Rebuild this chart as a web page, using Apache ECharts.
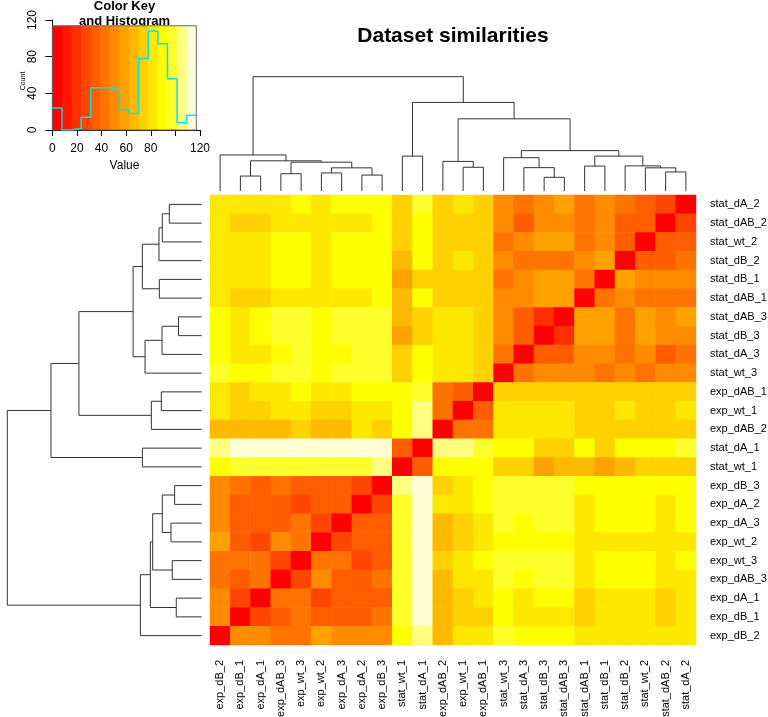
<!DOCTYPE html>
<html><head><meta charset="utf-8">
<script src="https://cdn.jsdelivr.net/npm/echarts@6/dist/echarts.min.js"></script>
<style>html,body{margin:0;padding:0;background:#fff}#c{width:768px;height:717px}</style>
</head><body><div id="c"></div>
<script>
// ---------- data ----------
const rowLabels = ['stat_dA_2','stat_dAB_2','stat_wt_2','stat_dB_2','stat_dB_1','stat_dAB_1','stat_dAB_3','stat_dB_3','stat_dA_3','stat_wt_3','exp_dAB_1','exp_wt_1','exp_dAB_2','stat_dA_1','stat_wt_1','exp_dB_3','exp_dA_2','exp_dA_3','exp_wt_2','exp_wt_3','exp_dAB_3','exp_dA_1','exp_dB_1','exp_dB_2'];
const colLabels = ['exp_dB_2','exp_dB_1','exp_dA_1','exp_dAB_3','exp_wt_3','exp_wt_2','exp_dA_3','exp_dA_2','exp_dB_3','stat_wt_1','stat_dA_1','exp_dAB_2','exp_wt_1','exp_dAB_1','stat_wt_3','stat_dA_3','stat_dB_3','stat_dAB_3','stat_dAB_1','stat_dB_1','stat_dB_2','stat_wt_2','stat_dAB_2','stat_dA_2'];
// symmetric matrix; rows and columns both in rowLabels order
const simMatrix = [
 [0,27,35,43,51,43,59,51,43,51,74,82,74,98,74,90,90,90,82,90,82,82,82,82],
 [27,0,35,35,51,43,51,51,35,51,74,74,74,90,74,90,82,82,82,82,82,74,74,82],
 [35,35,0,35,51,43,59,59,51,43,74,74,74,90,74,90,90,90,82,90,90,82,82,82],
 [43,35,35,0,59,51,43,43,43,51,74,82,74,90,66,90,90,90,82,90,90,82,82,82],
 [51,51,51,59,0,43,59,59,51,43,74,74,74,74,59,90,90,90,82,90,90,82,82,82],
 [43,43,43,51,43,0,59,59,51,51,74,74,74,90,66,90,82,82,82,82,82,74,74,82],
 [59,51,59,43,59,59,0,20,35,51,74,82,82,74,66,98,98,98,90,98,98,90,82,90],
 [51,51,59,43,59,59,20,0,35,51,74,82,82,74,59,98,98,98,90,98,98,90,82,90],
 [43,35,51,43,51,51,35,35,0,43,74,82,82,90,74,98,98,90,90,98,90,82,82,90],
 [51,51,43,51,43,51,51,51,43,0,74,82,82,90,74,98,98,98,90,98,98,90,90,98],
 [74,74,74,74,74,74,74,74,74,74,0,35,43,98,90,90,90,82,82,90,82,82,74,82],
 [82,74,74,82,74,74,82,82,82,82,35,0,43,105,90,82,82,74,74,82,82,74,74,82],
 [74,74,74,74,74,74,82,82,82,82,43,43,0,105,90,74,82,66,66,74,66,66,66,66],
 [98,90,90,90,74,90,74,74,90,90,98,105,105,0,35,113,113,113,113,113,113,113,113,105],
 [74,74,74,66,59,66,66,59,74,74,90,90,90,35,0,105,98,98,98,98,98,98,98,90],
 [90,90,90,90,90,90,98,98,98,98,90,82,74,113,105,0,27,35,35,35,43,35,43,51],
 [90,82,90,90,90,82,98,98,98,98,90,82,82,113,98,27,0,35,35,27,35,35,35,51],
 [90,82,90,90,90,82,98,98,90,98,82,74,66,113,98,35,35,0,27,43,35,35,35,51],
 [82,82,82,82,82,82,90,90,90,90,82,74,66,113,98,35,35,27,0,43,51,27,35,59],
 [90,82,90,90,90,82,98,98,98,98,90,82,74,113,98,35,27,43,43,0,27,43,43,43],
 [82,82,90,90,90,82,98,98,90,98,82,82,66,113,98,43,35,35,51,27,0,43,35,43],
 [82,74,82,82,82,74,90,90,82,90,82,74,66,113,98,35,35,35,27,43,43,0,27,51],
 [82,74,82,82,82,74,82,82,82,90,74,74,66,113,98,43,35,35,35,43,35,27,0,51],
 [82,82,82,82,82,82,90,90,90,98,82,82,66,105,90,51,51,51,59,43,43,51,51,0]
];
const keyBreaks = [0,7.8,15.6,23.4,31.2,39,46.8,54.6,62.4,70.2,78,85.8,93.6,101.4,109.2,117];
const keyColors = ['#FF0000','#FF1700','#FF2E00','#FF4600','#FF5D00','#FF7400','#FF8B00','#FFA200','#FFB900','#FFD100','#FFE800','#FFFF00','#FFFF2B','#FFFF80','#FFFFD5'];
const valueTicks = [0,20,40,60,80,100,120];
const valueTickLabels = [0,20,40,60,80,120];
const countTicks = [0,40,80,120];
// cluster tree: [mergeHeight, left, right]
const clusterTree = [117,
  [90.7,
    [73.9,
      [41.3,
        [35.7,
          [25.7, [23.7, [19.5, 'stat_dA_2', 'stat_dAB_2'], 'stat_wt_2'], 'stat_dB_2'],
          [25.5, 'stat_dB_1', 'stat_dAB_1']],
        [34.1, [23.9, [14.0, 'stat_dAB_3', 'stat_dB_3'], 'stat_dA_3'], 'stat_wt_3']],
      [30.3, [24.3, 'exp_dAB_1', 'exp_wt_1'], 'exp_dAB_2']],
    [35.7, 'stat_dA_1', 'stat_wt_1']],
  [36.9,
    [30.9,
      [29.5,
        [23.7, [16.3, 'exp_dB_3', 'exp_dA_2'], [18.5, 'exp_dA_3', 'exp_wt_2']],
        [17.7, 'exp_wt_3', 'exp_dAB_3']],
      [15.3, 'exp_dA_1', 'exp_dB_1']],
    'exp_dB_2']];

// ---------- derived ----------
const FONT = '"Liberation Sans", Arial, Helvetica, sans-serif';
const heatData = [];
rowLabels.forEach((rn, i) => {
  colLabels.forEach((cn, j) => {
    heatData.push([j, i, simMatrix[i][rowLabels.indexOf(cn)]]);
  });
});
const nb = keyColors.length;
const histCounts = new Array(nb).fill(0);
simMatrix.forEach(r => r.forEach(v => {
  let b = nb - 1;
  for (let k = 0; k < nb; k++) { if (v >= keyBreaks[k] && v < keyBreaks[k + 1]) { b = k; break; } }
  histCounts[b]++;
}));
const keyTop = Math.max.apply(null, histCounts) / 0.95;
const histPts = histCounts.map((c, b) => [keyBreaks[b], c]);
histPts.push([keyBreaks[nb], histCounts[nb - 1]]);

const pieces = keyColors.map((c, b) => b < nb - 1
  ? { gte: keyBreaks[b], lt: keyBreaks[b + 1], color: c }
  : { gte: keyBreaks[b], lte: keyBreaks[b + 1] + 10, color: c });

function buildSegs(node, posOf, segs) {
  if (typeof node === 'string') return { p: posOf(node), h: 0 };
  const l = buildSegs(node[1], posOf, segs), r = buildSegs(node[2], posOf, segs);
  segs.push([[l.p, l.h], [l.p, node[0]], [r.p, node[0]], [r.p, r.h]]);
  return { p: (l.p + r.p) / 2, h: node[0] };
}
const colSegs = []; buildSegs(clusterTree, n => colLabels.indexOf(n) + 0.5, colSegs);
const rowSegsRaw = []; buildSegs(clusterTree, n => rowLabels.indexOf(n) + 0.5, rowSegsRaw);
const rowSegs = rowSegsRaw.map(s => s.map(p => [p[1], p[0]]));
const ROOT_H = clusterTree[0];

function dendro(segs, xi, yi) {
  return {
    type: 'custom', xAxisIndex: xi, yAxisIndex: yi, silent: true, clip: false,
    data: segs.map(s => s[1]),
    renderItem: (params, api) => ({
      type: 'polyline',
      shape: { points: segs[params.dataIndex].map(p => api.coord(p)) },
      style: { stroke: '#333', lineWidth: 1, fill: null }
    })
  };
}

const chart = echarts.init(document.getElementById('c'), null, { renderer: 'canvas' });
const option = {
  animation: false,
  backgroundColor: '#fff',
  grid: [
    { left: 210, top: 195, width: 486, height: 450, outerBoundsMode: 'none' },
    { left: 210, top: 76.7, width: 486, height: 114.3, outerBoundsMode: 'none' },
    { left: 7.3, top: 195, width: 194.4, height: 450, outerBoundsMode: 'none' },
    { left: 52.3, top: 20, width: 147.7, height: 110, outerBoundsMode: 'none' }
  ],
  xAxis: [
    { gridIndex: 0, type: 'category', data: colLabels, position: 'bottom',
      axisLine: { show: false }, axisTick: { show: false }, splitLine: { show: false },
      axisLabel: { interval: 0, rotate: 90, margin: 15, fontSize: 11, color: '#000', fontFamily: FONT } },
    { gridIndex: 1, type: 'value', min: 0, max: 24, show: false },
    { gridIndex: 2, type: 'value', min: 0, max: ROOT_H, inverse: true, show: false },
    { gridIndex: 3, type: 'value', min: valueTicks[0], max: valueTicks[valueTicks.length - 1], interval: 20,
      axisLine: { show: true, onZero: false, lineStyle: { color: '#000', width: 1 } },
      axisTick: { show: true, length: 6, lineStyle: { color: '#000' } },
      splitLine: { show: false },
      axisLabel: { margin: 13, fontSize: 12, color: '#000', fontFamily: FONT,
        formatter: v => valueTickLabels.indexOf(v) >= 0 ? String(v) : '' } }
  ],
  yAxis: [
    { gridIndex: 0, type: 'category', data: rowLabels, inverse: true, position: 'right',
      axisLine: { show: false }, axisTick: { show: false }, splitLine: { show: false },
      axisLabel: { interval: 0, margin: 14, fontSize: 11, color: '#000', fontFamily: FONT } },
    { gridIndex: 1, type: 'value', min: 0, max: ROOT_H, show: false },
    { gridIndex: 2, type: 'value', min: 0, max: 24, inverse: true, show: false },
    { gridIndex: 3, type: 'value', min: countTicks[0], max: countTicks[countTicks.length - 1], interval: 40,
      axisLine: { show: true, onZero: false, lineStyle: { color: '#000', width: 1 } },
      axisTick: { show: true, length: 7, lineStyle: { color: '#000' } },
      splitLine: { show: false },
      axisLabel: { rotate: 90, margin: 14, fontSize: 12, color: '#000', fontFamily: FONT } }
  ],
  visualMap: { type: 'piecewise', show: false, seriesIndex: 0, dimension: 2, pieces: pieces },
  series: [
    { type: 'heatmap', xAxisIndex: 0, yAxisIndex: 0, data: heatData, silent: true,
      itemStyle: { borderWidth: 0 }, emphasis: { disabled: true }, progressive: 0 },
    dendro(colSegs, 1, 1),
    dendro(rowSegs, 2, 2),
    { type: 'custom', xAxisIndex: 3, yAxisIndex: 3, silent: true, z: 1,
      data: keyColors.map((c, b) => [keyBreaks[b], keyTop]),
      renderItem: (params, api) => {
        const b = params.dataIndex;
        const p1 = api.coord([keyBreaks[b], keyTop]);
        const p2 = api.coord([keyBreaks[b + 1], 0]);
        return { type: 'rect', shape: { x: p1[0], y: p1[1], width: p2[0] - p1[0] + 0.6, height: p2[1] - p1[1] },
          style: { fill: keyColors[b] } };
      } },
    { type: 'custom', xAxisIndex: 3, yAxisIndex: 3, silent: true, z: 3,
      data: [[keyBreaks[nb], keyTop]],
      renderItem: (params, api) => {
        const p1 = api.coord([keyBreaks[0], keyTop]);
        const p2 = api.coord([keyBreaks[nb], 0]);
        return { type: 'rect', shape: { x: p1[0], y: p1[1], width: p2[0] - p1[0], height: p2[1] - p1[1] },
          style: { fill: null, stroke: '#666', lineWidth: 1 } };
      } },
    { type: 'line', xAxisIndex: 3, yAxisIndex: 3, silent: true, z: 4, step: 'end',
      data: histPts, showSymbol: false, symbol: 'none',
      lineStyle: { color: '#00E5E5', width: 1.5 } }
  ],
  graphic: [
    { type: 'text', x: 453, y: 36, style: { text: 'Dataset similarities', font: 'bold 21px ' + FONT,
      fill: '#000', textAlign: 'center', textVerticalAlign: 'middle', align: 'center', verticalAlign: 'middle' } },
    { type: 'text', x: 124.5, y: 6, style: { text: 'Color Key', font: 'bold 13px ' + FONT,
      fill: '#000', textAlign: 'center', textVerticalAlign: 'middle', align: 'center', verticalAlign: 'middle' } },
    { type: 'text', x: 124.5, y: 21.5, style: { text: 'and Histogram', font: 'bold 13px ' + FONT,
      fill: '#000', textAlign: 'center', textVerticalAlign: 'middle', align: 'center', verticalAlign: 'middle' } },
    { type: 'text', x: 124.5, y: 166, style: { text: 'Value', font: '12px ' + FONT,
      fill: '#000', textAlign: 'center', textVerticalAlign: 'middle', align: 'center', verticalAlign: 'middle' } },
    { type: 'text', x: 23.5, y: 81, rotation: Math.PI / 2, style: { text: 'Count', font: '7px ' + FONT,
      fill: '#000', textAlign: 'center', textVerticalAlign: 'middle', align: 'center', verticalAlign: 'middle' } }
  ]
};
chart.setOption(option);
</script>
</body></html>
